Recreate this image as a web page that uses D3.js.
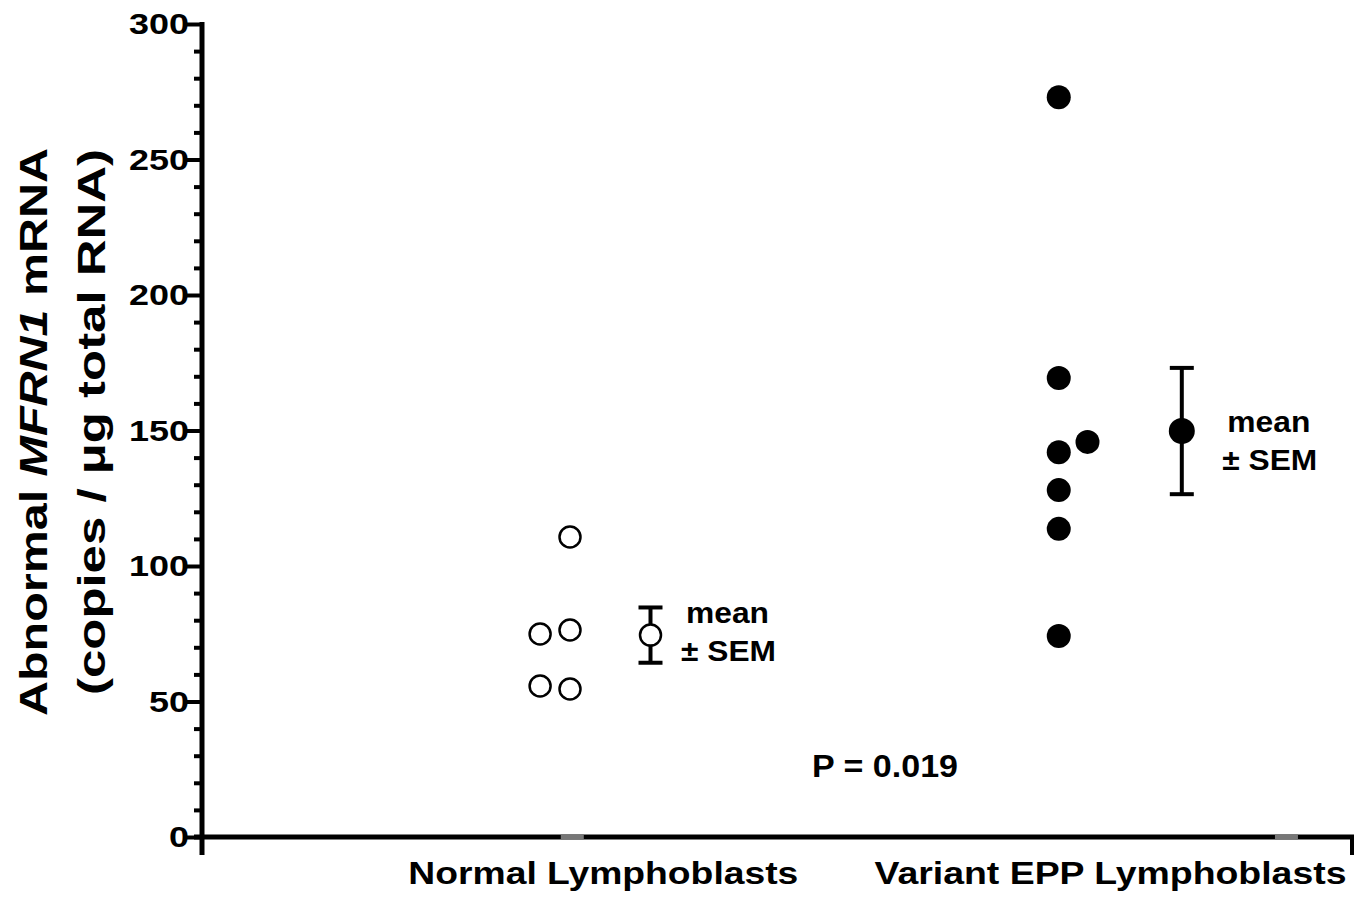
<!DOCTYPE html>
<html>
<head>
<meta charset="utf-8">
<script src="https://cdn.jsdelivr.net/npm/d3@7"></script>
<style>
  body { margin: 0; background: #fff; }
  text { font-family: "Liberation Sans", Arial, sans-serif; font-weight: bold; fill: #000; }
</style>
</head>
<body>
<section></section>
<script>
// values
const yTicks = [0, 50, 100, 150, 200, 250, 300];
const groups = ['Normal Lymphoblasts', 'Variant EPP Lymphoblasts'];
const groupPos = [3.49, 7.9];
const normalX = [3.2, 2.94, 3.2, 2.94, 3.2];
const normalY = [110.7, 74.9, 76.4, 55.7, 54.6];
const variantX = [7.45, 7.45, 7.7, 7.45, 7.45, 7.45, 7.45];
const variantY = [273, 169.4, 145.8, 142, 128, 113.7, 74.2];
const meanX = [3.9, 8.52];
const means = [74.5, 149.8];
const sems = [10.2, 23.3];
const pText = 'P = 0.019';

let width = 1370, height = 899;
// where the "mean ± SEM" note sits next to each mean marker
const noteDx = [76, 86], noteDy = [-12, 1];

const svg = d3.select('section')
    .append('svg')
    .attr('width', width)
    .attr('height', height)

const xScale = d3.scaleLinear()
    .domain([0, 10])
    .range([202, 1352])
const yScale = d3.scaleLinear()
    .domain([0, 300])
    .range([837, 24])

// y axis with minor ticks
const yAxis = svg.append('g').attr('transform', 'translate(' + xScale(0) + ',0)')
yAxis.call(d3.axisLeft(yScale).tickValues(d3.range(0, 301, 10)).tickSize(8).tickFormat(''))
yAxis.selectAll('.tick line').attr('stroke-width', 4).attr('x2', -8)
yAxis.selectAll('.tick').filter(d => d % 50 === 0).select('line').attr('x2', -16)
yAxis.select('.domain').remove()
yAxis.append('line')
    .attr('x1', 0).attr('x2', 0)
    .attr('y1', yScale(300) - 2).attr('y2', yScale(0) + 18)
    .attr('stroke', '#000').attr('stroke-width', 5)

svg.selectAll('.ylab')
    .data(yTicks)
    .enter()
    .append('text')
    .attr('class', 'ylab')
    .attr('x', xScale(0) - 13)
    .attr('y', d => yScale(d))
    .attr('dy', '0.36em')
    .attr('text-anchor', 'end')
    .style('font-size', '29px')
    .attr('textLength', d => String(d).length * 20)
    .attr('lengthAdjust', 'spacingAndGlyphs')
    .text(d => d)

// x axis
svg.append('line')
    .attr('x1', xScale(0) - 8).attr('x2', xScale(10) + 2)
    .attr('y1', yScale(0)).attr('y2', yScale(0))
    .attr('stroke', '#000').attr('stroke-width', 5)
svg.append('line')
    .attr('x1', xScale(10)).attr('x2', xScale(10))
    .attr('y1', yScale(0)).attr('y2', yScale(0) + 18)
    .attr('stroke', '#000').attr('stroke-width', 4)
// grey patches on the axis
svg.selectAll('.patch')
    .data([3.12, 9.33])
    .enter()
    .append('rect')
    .attr('x', d => xScale(d))
    .attr('y', yScale(0) - 2.5)
    .attr('width', xScale(0.2) - xScale(0))
    .attr('height', 5)
    .attr('fill', '#777')

svg.selectAll('.xlab')
    .data(groups)
    .enter()
    .append('text')
    .attr('x', (d, i) => xScale(groupPos[i]))
    .attr('y', 884)
    .attr('text-anchor', 'middle')
    .style('font-size', '31px')
    .attr('textLength', (d, i) => i === 0 ? 390 : 472)
    .attr('lengthAdjust', 'spacingAndGlyphs')
    .text(d => d)

// y title
const title = svg.append('text')
    .attr('transform', 'translate(47,432) rotate(-90)')
    .attr('text-anchor', 'middle')
    .style('font-size', '38px')
    .attr('textLength', 568)
    .attr('lengthAdjust', 'spacingAndGlyphs')
title.append('tspan').text('Abnormal ')
title.append('tspan').style('font-style', 'italic').text('MFRN1')
title.append('tspan').text(' mRNA')
svg.append('text')
    .attr('transform', 'translate(105,422) rotate(-90)')
    .attr('text-anchor', 'middle')
    .style('font-size', '38px')
    .attr('textLength', 546)
    .attr('lengthAdjust', 'spacingAndGlyphs')
    .text('(copies / \u03bcg total RNA)')

// individual points
svg.selectAll('.normal')
    .data(normalY)
    .enter()
    .append('circle')
    .attr('cx', (d, i) => xScale(normalX[i]))
    .attr('cy', d => yScale(d))
    .attr('r', 10.5)
    .attr('fill', '#fff')
    .attr('stroke', '#000')
    .attr('stroke-width', 2.5)

svg.selectAll('.variant')
    .data(variantY)
    .enter()
    .append('circle')
    .attr('cx', (d, i) => xScale(variantX[i]))
    .attr('cy', d => yScale(d))
    .attr('r', 12)
    .attr('fill', '#000')

// mean +- SEM
means.forEach((m, i) => {
    const x = xScale(meanX[i]);
    const g = svg.append('g');
    g.append('line')
        .attr('x1', x).attr('x2', x)
        .attr('y1', yScale(m + sems[i])).attr('y2', yScale(m - sems[i]))
        .attr('stroke', '#000').attr('stroke-width', 4);
    [m + sems[i], m - sems[i]].forEach(v => {
        g.append('line')
            .attr('x1', x - 12).attr('x2', x + 12)
            .attr('y1', yScale(v)).attr('y2', yScale(v))
            .attr('stroke', '#000').attr('stroke-width', 4);
    });
    g.append('circle')
        .attr('cx', x).attr('cy', yScale(m))
        .attr('r', i === 0 ? 10.5 : 13)
        .attr('fill', i === 0 ? '#fff' : '#000')
        .attr('stroke', '#000')
        .attr('stroke-width', i === 0 ? 2.5 : 0);
    g.append('text')
        .attr('x', x + noteDx[i] + 1).attr('y', yScale(m) + noteDy[i])
        .attr('text-anchor', 'middle')
        .style('font-size', '29px')
        .attr('textLength', 83)
        .attr('lengthAdjust', 'spacingAndGlyphs')
        .text('mean');
    g.append('text')
        .attr('x', x + noteDx[i] + 2).attr('y', yScale(m) + noteDy[i] + 38)
        .attr('text-anchor', 'middle')
        .style('font-size', '29px')
        .attr('textLength', 95)
        .attr('lengthAdjust', 'spacingAndGlyphs')
        .text('\u00b1 SEM');
})

svg.append('text')
    .attr('x', 885)
    .attr('y', 777)
    .attr('text-anchor', 'middle')
    .style('font-size', '32px')
    .attr('textLength', 146)
    .attr('lengthAdjust', 'spacingAndGlyphs')
    .text(pText)
</script>
</body>
</html>
